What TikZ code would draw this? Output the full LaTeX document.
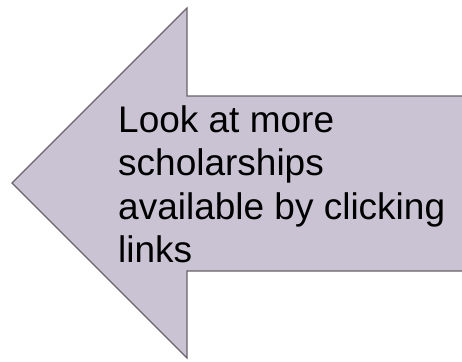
\documentclass[tikz,border=0pt]{standalone}
\usepackage{fontspec}
\setmainfont{Liberation Sans}
\usepackage{xcolor}
\usepackage{tikz}
\usetikzlibrary{calc}
\usetikzlibrary{positioning}

\definecolor{arrowfill}{RGB}{201,195,211}
\definecolor{arrowline}{RGB}{104,100,108}

\begin{document}
\begin{tikzpicture}[x=1pt, y=-1pt]
 \useasboundingbox (0, 0) rectangle (462, 361);
 \clip (0, 0) rectangle (462, 361);
 \draw [fill=arrowfill, draw=arrowline, line width=1.2pt, line join=miter] (12, 183) -- (187, 8) -- (187, 96) -- (480, 96) -- (480, 271) -- (187, 271) -- (187, 358) -- cycle;
 \node [rectangle, draw=none, inner sep=0pt, anchor=north west, align=left, font=\fontsize{37}{43.4}\selectfont] (txt) at (118, 105.5) {Look at more\\scholarships\\available by clicking\\links};
\end{tikzpicture}
\end{document}
